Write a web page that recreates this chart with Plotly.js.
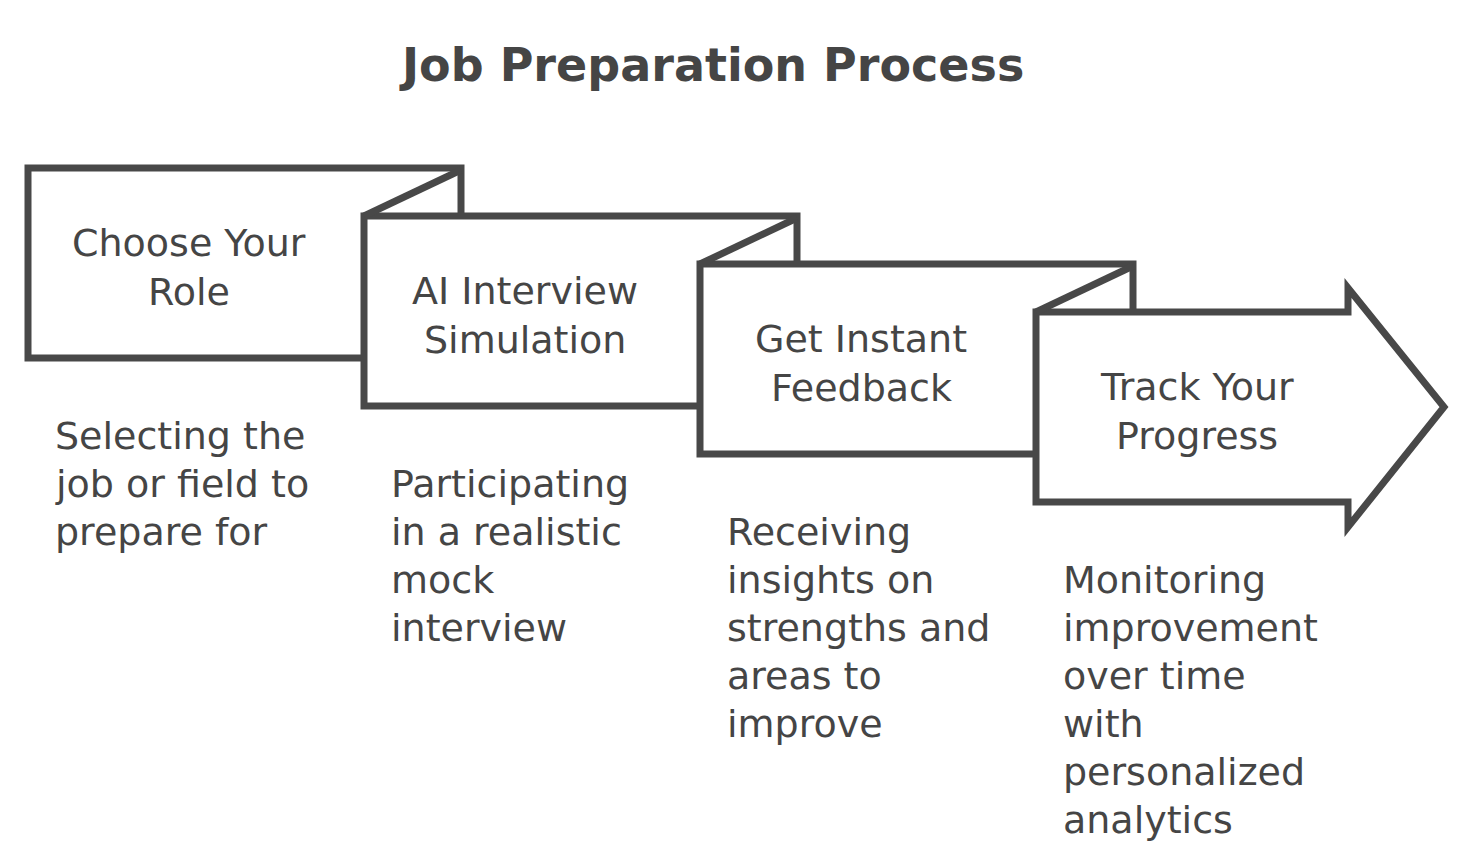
<!DOCTYPE html>
<html>
<head>
<meta charset="utf-8">
<script src="https://cdn.plot.ly/plotly-3.0.1.min.js"></script>
<style>html,body{margin:0;padding:0;background:#fff;}#chart{width:1473px;height:864px;}</style>
</head>
<body>
<div id="chart"></div>
<script>
// ---- data ----
var chartTitle = "Job Preparation Process";
var stepTitles = [
  ["Choose Your", "Role"],
  ["AI Interview", "Simulation"],
  ["Get Instant", "Feedback"],
  ["Track Your", "Progress"]
];
var stepDescriptions = [
  ["Selecting the", "job or field to", "prepare for"],
  ["Participating", "in a realistic", "mock", "interview"],
  ["Receiving", "insights on", "strengths and", "areas to", "improve"],
  ["Monitoring", "improvement", "over time", "with", "personalized", "analytics"]
];

// ---- layout geometry (drawing units = page pixels) ----
var W = 1473, H = 864;
var x0 = 28, y0 = 168, stepDX = 336, stepDY = 48, boxW = 433, boxH = 190;
var headStart = 312, headTip = 96, headOver = 24;
var lineColor = "#484848", textColor = "#454545", lw = 7;
var fontFam = "DejaVu Sans, Open Sans, sans-serif";

var shapes = [], annotations = [];
var n = stepTitles.length;
function L(i){ return x0 + stepDX*i; }
function T(i){ return y0 + stepDY*i; }

for (var i = 0; i < n; i++) {
  var l = L(i), t = T(i), r = l + boxW, b = t + boxH, p;
  if (i < n-1) {
    p = "M"+l+","+t+" L"+r+","+t+" L"+r+","+b+" L"+l+","+b+" Z";
  } else {
    var hx = l + headStart;
    var mid = (t+b)/2;
    p = "M"+l+","+t+" L"+hx+","+t+" L"+hx+","+(t-headOver)+" L"+(hx+headTip)+","+mid+
        " L"+hx+","+(b+headOver+1)+" L"+hx+","+b+" L"+l+","+b+" Z";
  }
  shapes.push({type:"path", xref:"x", yref:"y", path:p, fillcolor:"#ffffff",
               line:{color:lineColor, width:lw}, layer:"above"});
}
for (var i = 0; i < n-1; i++) {
  shapes.push({type:"line", xref:"x", yref:"y", x0:L(i)+boxW, y0:T(i)+2, x1:L(i+1), y1:T(i+1),
               line:{color:lineColor, width:lw}, layer:"above"});
}

// texts
for (var i = 0; i < n; i++) {
  var l = L(i), t = T(i), b = t + boxH;
  var cx = l + 161;
  var cy = (t + b)/2 + 4;
  var lines = stepTitles[i];
  var sp = 49;
  for (var k = 0; k < lines.length; k++) {
    annotations.push({xref:"x", yref:"y", x:cx, y:cy + (k - (lines.length-1)/2)*sp,
      text:lines[k], showarrow:false, xanchor:"center", yanchor:"middle",
      font:{family:fontFam, size:38, color:textColor}});
  }
  var d = stepDescriptions[i];
  for (var k = 0; k < d.length; k++) {
    annotations.push({xref:"x", yref:"y", x:l+25, y:b+78+k*48,
      text:d[k], showarrow:false, xanchor:"left", yanchor:"middle",
      font:{family:fontFam, size:38, color:textColor}});
  }
}
annotations.push({xref:"x", yref:"y", x:711, y:65, text:"<b>"+chartTitle+"</b>",
  showarrow:false, xanchor:"center", yanchor:"middle",
  font:{family:fontFam, size:46, color:textColor}});

var layout = {
  width:W, height:H, margin:{l:0,r:0,t:0,b:0},
  paper_bgcolor:"#ffffff", plot_bgcolor:"#ffffff",
  xaxis:{range:[0,W], visible:false, fixedrange:true},
  yaxis:{range:[H,0], visible:false, fixedrange:true},
  shapes:shapes, annotations:annotations, showlegend:false
};
Plotly.newPlot("chart", [{x:[], y:[], type:"scatter"}], layout, {displayModeBar:false, staticPlot:true});
</script>
</body>
</html>
